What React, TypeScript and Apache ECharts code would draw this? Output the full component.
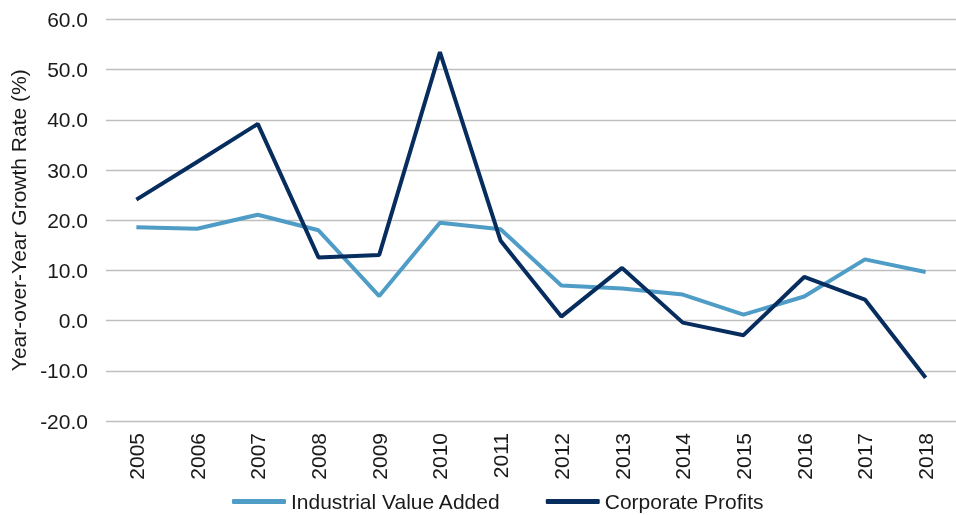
import React, { useEffect, useRef } from "react";
import * as echarts from "echarts";

const years = ["2005","2006","2007","2008","2009","2010","2011","2012","2013","2014","2015","2016","2017","2018"];
const industrialValueAdded = [18.6, 18.3, 21.1, 18.0, 4.9, 19.5, 18.2, 7.0, 6.4, 5.2, 1.2, 4.8, 12.2, 9.7];
const corporateProfits = [24.1, 31.6, 39.2, 12.6, 13.1, 53.5, 15.9, 0.8, 10.5, -0.4, -2.9, 8.7, 4.2, -11.4];
const yTicks = { min: -20, max: 60, interval: 10 };

const FONT = "'Liberation Sans', Arial, sans-serif";

export default function App() {
  const ref = useRef<HTMLDivElement>(null);
  useEffect(() => {
    if (!ref.current) return;
    const chart = echarts.init(ref.current, null, { renderer: "svg" });
    chart.setOption({
      animation: false,
      textStyle: { fontFamily: FONT },
      grid: { left: 106, right: 0, top: 19.5, bottom: 94 },
      legend: {
        left: 232,
        top: 491,
        padding: 0,
        icon: "roundRect",
        itemWidth: 54,
        itemHeight: 5,
        itemGap: 45,
        textStyle: { fontFamily: FONT, fontSize: 21, color: "#1a1a1a" },
        data: ["Industrial Value Added", "Corporate Profits"],
      },
      xAxis: {
        type: "category",
        data: years,
        boundaryGap: true,
        axisLine: { show: false },
        axisTick: { show: false },
        axisLabel: { rotate: 90, fontSize: 21, color: "#1a1a1a", margin: 12, fontFamily: FONT },
      },
      yAxis: {
        type: "value",
        min: yTicks.min,
        max: yTicks.max,
        interval: yTicks.interval,
        name: "Year-over-Year Growth Rate (%)",
        nameLocation: "middle",
        nameGap: 69,
        nameTextStyle: { fontSize: 21, color: "#1a1a1a", fontFamily: FONT },
        axisLabel: { fontSize: 21, color: "#1a1a1a", margin: 18, fontFamily: FONT, formatter: (v: number) => v.toFixed(1) },
        splitLine: { lineStyle: { color: "#BFBFBF", width: 1.4 } },
        axisLine: { show: false },
        axisTick: { show: false },
      },
      series: [
        {
          name: "Industrial Value Added",
          type: "line",
          data: industrialValueAdded,
          symbol: "none",
          lineStyle: { color: "#4F9DC6", width: 4 },
          itemStyle: { color: "#4F9DC6" },
        },
        {
          name: "Corporate Profits",
          type: "line",
          data: corporateProfits,
          symbol: "none",
          lineStyle: { color: "#062D5E", width: 4 },
          itemStyle: { color: "#062D5E" },
        },
      ],
    });
    return () => chart.dispose();
  }, []);
  return <div ref={ref} style={{ position: "fixed", left: 0, top: 0, width: 956, height: 515 }} />;
}
